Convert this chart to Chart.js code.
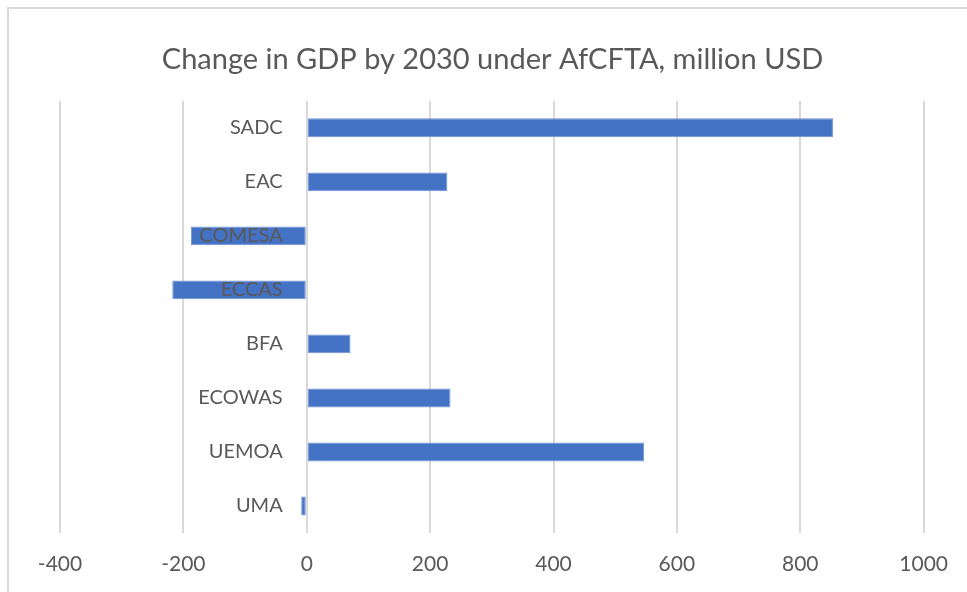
<!DOCTYPE html>
<html>
<head>
<meta charset="utf-8">
<script src="https://cdn.jsdelivr.net/npm/chart.js@4.4.1/dist/chart.umd.min.js"></script>
<style>
  html, body { margin: 0; padding: 0; background: #ffffff; }
  #wrap { position: relative; width: 967px; height: 592px; overflow: hidden; }
  #frame { position: absolute; left: 7px; top: 7px; width: 1000px; height: 700px;
           border-left: 2px solid #d9d9d9; border-top: 2px solid #d9d9d9; box-sizing: border-box; }
  canvas { position: absolute; left: 0; top: 0; }
</style>
</head>
<body>
<div id="wrap">
  <div id="frame"></div>
  <canvas id="c" width="967" height="592"></canvas>
</div>
<script>
const titleText = "Change in GDP by 2030 under AfCFTA, million USD";
const categories = ["SADC", "EAC", "COMESA", "ECCAS", "BFA", "ECOWAS", "UEMOA", "UMA"];
const gdpChange = [853, 228, -188, -218, 71, 233, 547, -9];
const xMin = -400, xMax = 1000, xStep = 200;
// category labels sit just left of the value axis crossing (0), as in Excel
const labelAnchor = -39;

const textColor = "#595959";
const fontFamily = "Lato, 'Open Sans', sans-serif";

new Chart(document.getElementById("c"), {
  type: "bar",
  data: {
    labels: categories,
    datasets: [{
      data: gdpChange,
      backgroundColor: "#4472c4",
      borderColor: "#6f93d4",
      borderWidth: 1,
      borderSkipped: false,
      barPercentage: 0.35,
      categoryPercentage: 1.0
    }]
  },
  options: {
    indexAxis: "y",
    responsive: false,
    animation: false,
    layout: { padding: { left: 60, right: 42, top: 0, bottom: 0 } },
    plugins: {
      legend: { display: false },
      tooltip: { enabled: false },
      title: {
        display: true,
        text: titleText,
        color: textColor,
        font: { family: fontFamily, size: 29, weight: "normal" },
        padding: { top: 42, bottom: 24 }
      }
    },
    scales: {
      x: {
        min: xMin,
        max: xMax,
        afterFit: (s) => { s.height = 59; },
        ticks: {
          stepSize: xStep,
          color: textColor,
          font: { family: fontFamily, size: 21 },
          padding: 19,
          callback: (v) => String(v)
        },
        grid: { color: "#d9d9d9", lineWidth: 2, drawTicks: false },
        border: { display: false }
      },
      y: {
        position: { x: labelAnchor },
        ticks: {
          z: 1,
          color: textColor,
          font: { family: fontFamily, size: 20 },
          padding: 0
        },
        grid: { display: false, drawTicks: false },
        border: { display: false }
      }
    }
  }
});
</script>
</body>
</html>
